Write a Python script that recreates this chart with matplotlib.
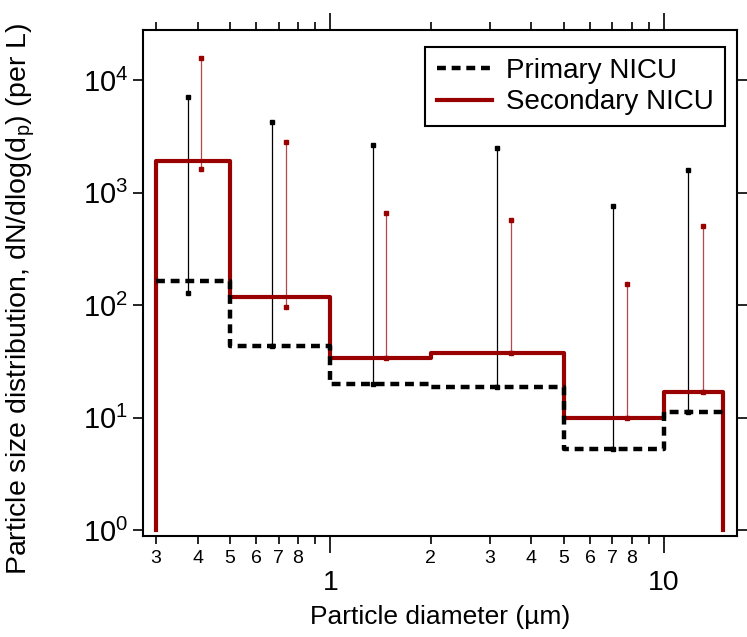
import numpy as np
import matplotlib
matplotlib.use("Agg")
import matplotlib.pyplot as plt
from matplotlib.ticker import FixedLocator, FixedFormatter, NullLocator

plt.rcParams['font.family'] = ['Liberation Sans', 'DejaVu Sans']
plt.rcParams['mathtext.fontset'] = 'custom'
plt.rcParams['mathtext.rm'] = 'Liberation Sans'

# bin edges (um) and dN/dlog(dp) per bin
edges = [0.3, 0.5, 1, 2, 5, 10, 15]
primary = [165, 43, 20, 18.6, 5.3, 11.3]
secondary = [1900, 119, 34, 37.3, 10, 16.8]

# range bars (x position, low, high)
prim_err_x = [0.374, 0.67, 1.34, 3.15, 7.02, 11.8]
prim_err_lo = [129, 43, 20, 18.6, 5.3, 11.3]
prim_err_hi = [7170, 4270, 2660, 2520, 760, 1590]
sec_err_x = [0.41, 0.735, 1.47, 3.47, 7.73, 13.1]
sec_err_lo = [1630, 97, 34, 37.3, 10, 16.8]
sec_err_hi = [15800, 2810, 657, 573, 154, 507]

minor_ticks = [0.3, 0.4, 0.5, 0.6, 0.7, 0.8, 0.9, 2, 3, 4, 5, 6, 7, 8, 9, 20]
minor_labels = ['3', '4', '5', '6', '7', '8', '', '2', '3', '4', '5', '6', '7', '8', '', '']

red = '#990000'
red_light = '#b5474b'

fig = plt.figure(figsize=(7.47, 6.37), dpi=100)
ax = fig.add_axes([0.1918, 0.159, 0.7944, 0.7939])

# range bars first so the step lines cover their lower ends
ax.vlines(prim_err_x, prim_err_lo, prim_err_hi, color='black', lw=0.9, zorder=1)
ax.plot(prim_err_x + prim_err_x, prim_err_lo + prim_err_hi, 's', color='black', ms=3, zorder=1)
ax.vlines(sec_err_x, sec_err_lo, sec_err_hi, color=red_light, lw=0.9, zorder=1)
ax.plot(sec_err_x + sec_err_x, sec_err_lo + sec_err_hi, 's', color=red, ms=3, zorder=1)

# step lines
ax.plot(edges, primary + [primary[-1]], drawstyle='steps-post', color='black',
        lw=3.2, ls=(0, (2, 1.3)), label='Primary NICU', zorder=3)
ax.plot([edges[0]] + edges + [edges[-1]], [1] + secondary + [secondary[-1], 1],
        drawstyle='steps-post', color=red, lw=3, label='Secondary NICU', zorder=2)

ax.set_xscale('log')
ax.set_yscale('log')
ax.set_xlim(0.275, 16.5)
ax.set_ylim(0.89, 28000)

ax.xaxis.set_major_locator(FixedLocator([1, 10]))
ax.xaxis.set_major_formatter(FixedFormatter(['1', '10']))
ax.xaxis.set_minor_locator(FixedLocator(minor_ticks))
ax.xaxis.set_minor_formatter(FixedFormatter(minor_labels))
ax.yaxis.set_minor_locator(NullLocator())
ax.set_yticks([1, 10, 100, 1000, 10000])

ax.tick_params(axis='x', which='major', direction='out', length=12, width=1.2,
               pad=13, labelsize=20.5, top=True)
ax.tick_params(axis='x', which='minor', direction='out', length=6, width=1.2,
               pad=4, labelsize=14, top=True)
ax.tick_params(axis='y', which='major', direction='out', length=7, width=1.2,
               pad=4, labelsize=21, right=True)
for s in ax.spines.values():
    s.set_linewidth(1.5)

ax.set_xlabel('Particle diameter (µm)', fontsize=19, labelpad=6)
ax.set_ylabel('Particle size distribution, dN/dlog(d$_\\mathregular{p}$) (per L)',
              fontsize=20.5)
ax.yaxis.set_label_coords(-0.179, 0.468)

leg = ax.legend(loc='upper right', bbox_to_anchor=(0.98, 0.967), borderaxespad=0,
                fontsize=20, frameon=True, fancybox=False, framealpha=1,
                edgecolor='black', labelspacing=0.2, handlelength=2.0,
                handletextpad=0.5, borderpad=0.4)
leg.get_frame().set_linewidth(1.5)

fig.savefig('out.png', dpi=100)
